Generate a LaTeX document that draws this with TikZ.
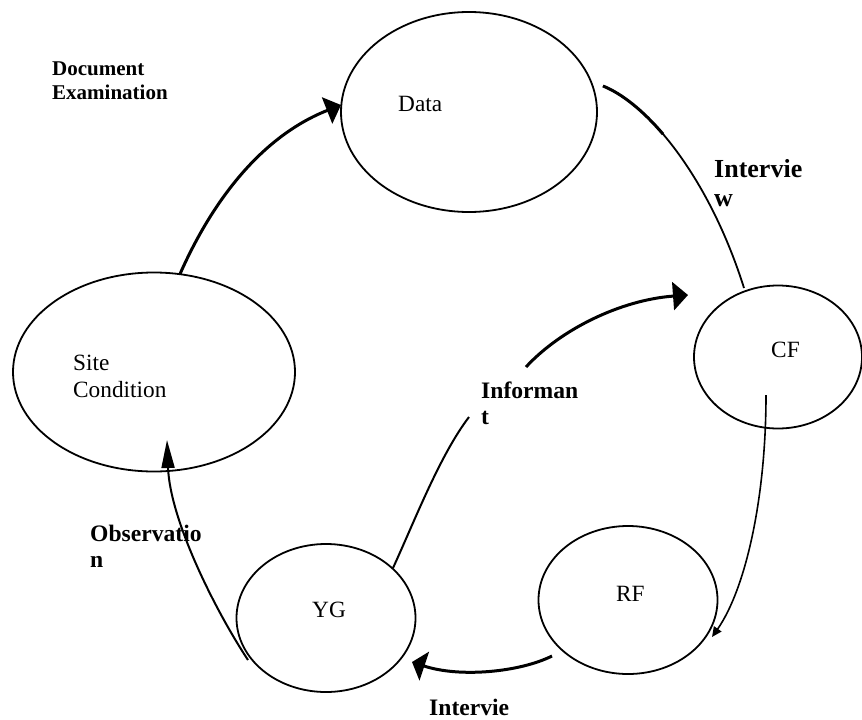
\documentclass[tikz,border=0pt]{standalone}
\usepackage{fontspec}
\setmainfont{Liberation Serif}
\usetikzlibrary{arrows.meta,shapes.geometric}
\begin{document}
\begin{tikzpicture}[x=1pt,y=-1pt,
  bubble/.style={draw, ellipse, line width=1.8pt, inner sep=0pt},
  ntext/.style={anchor=base west, inner sep=0pt, font=\fontsize{23.3}{27}\selectfont},
  lbl/.style={anchor=base west, inner sep=0pt, font=\bfseries\fontsize{23.6}{26.5}\selectfont},
  bighead/.style={-{Triangle[length=15pt,width=28pt]}},
]
\useasboundingbox[fill=white] (0,0) rectangle (862,720);

% ellipses
\node[bubble, minimum width=256pt, minimum height=200pt] (data) at (469,112) {};
\node[bubble, minimum width=282pt, minimum height=199pt] (site) at (154,372) {};
\node[bubble, minimum width=168pt, minimum height=143pt] (cf) at (778,357) {};
\node[bubble, minimum width=179pt, minimum height=148pt] (rf) at (628,600) {};
\node[bubble, minimum width=179pt, minimum height=148pt] (yg) at (326,618) {};

% texts in ellipses
\node[ntext] (tdata) at (398,111.5) {Data};
\node[ntext] (tsite) at (73,370) {\begin{tabular}[t]{@{}l@{}}Site\\Condition\end{tabular}};
\node[ntext] (tcf) at (771,357) {CF};
\node[ntext] (trf) at (616,601) {RF};
\node[ntext] (tyg) at (312,617) {YG};

% labels
\node[lbl, font=\bfseries\fontsize{21}{24.5}\selectfont] (ldoc) at (52,75) {\begin{tabular}[t]{@{}l@{}}Document\\Examination\end{tabular}};
\node[lbl, font=\bfseries\fontsize{26}{29.5}\selectfont] (lint1) at (714,177) {\begin{tabular}[t]{@{}l@{}}Intervie\\w\end{tabular}};
\node[lbl, font=\bfseries\fontsize{23.6}{26.5}\selectfont] (linf) at (481,398) {\begin{tabular}[t]{@{}l@{}}Informan\\t\end{tabular}};
\node[lbl, font=\bfseries\fontsize{23.6}{26}\selectfont] (lobs) at (90,541) {\begin{tabular}[t]{@{}l@{}}Observatio\\n\end{tabular}};
\node[lbl] (lint2) at (429,715) {Intervie};

% connector end points
\coordinate (sd1) at (180,274);
\coordinate (sd2) at (341,105);
\coordinate (dc1) at (603,86);
\coordinate (dc2) at (744,288);
\coordinate (cr1) at (766,395);
\coordinate (cr2) at (712,637);
\coordinate (ry1) at (552,656);
\coordinate (ry2) at (412,662);
\coordinate (ys1) at (248,660);
\coordinate (ys2) at (167,440);
\coordinate (yc1) at (393,568);
\coordinate (yc2) at (469,417);
\coordinate (yc3) at (526,367);
\coordinate (yc4) at (688,295);

% connectors
\draw[line width=3pt, bighead] (sd1) .. controls (215,195) and (265,135) .. (sd2);
\draw[line width=1.8pt] (dc1) .. controls (650,105) and (710,180) .. (dc2);
\draw[line width=3pt] (dc1) .. controls (621.8,93.6) and (642.7,110.2) .. (663.1,134.2);
\draw[line width=1.6pt, -{Triangle[length=10pt,width=9pt]}] (cr1) .. controls (766,500) and (745,590) .. (cr2);
\draw[line width=3pt, -{Triangle[length=13pt,width=30pt]}] (ry1) .. controls (520,672) and (460,678) .. (ry2);
\draw[line width=2pt, -{Triangle[length=28pt,width=13pt]}] (ys1) .. controls (215,610) and (170,520) .. (ys2);
\draw[line width=2pt] (yc1) .. controls (415,520) and (440,455) .. (yc2);
\draw[line width=3pt, bighead] (yc3) .. controls (560,330) and (620,300) .. (yc4);
\end{tikzpicture}
\end{document}
